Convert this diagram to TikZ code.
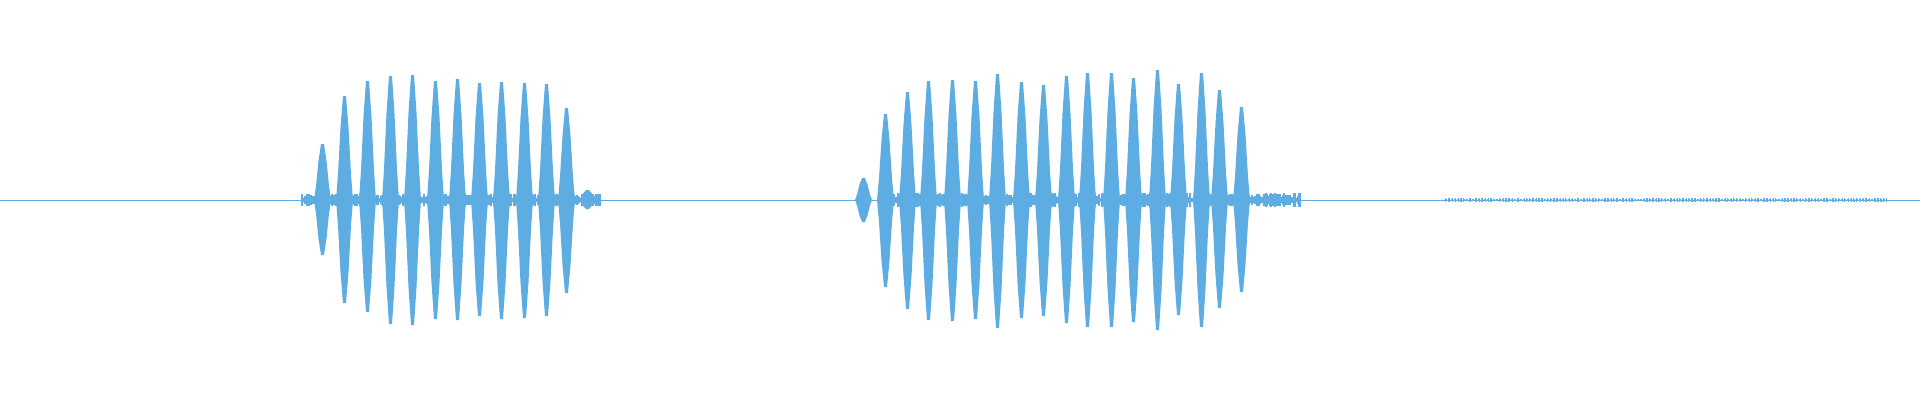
\documentclass[tikz,border=0pt]{standalone}
\definecolor{wave}{RGB}{93,173,226}
\newcommand\wspike[3]{% x, top amp, bottom amp
  \fill[wave] (#1-9,0) -- (#1-7,0.25*#2) -- (#1-4.5,0.7*#2) -- (#1-2,#2) -- (#1+1,#2) -- (#1+3.5,0.7*#2) -- (#1+6,0.25*#2) -- (#1+8,0)
   -- (#1+6,-0.25*#3) -- (#1+3.5,-0.7*#3) -- (#1+1,-#3) -- (#1-2,-#3) -- (#1-4.5,-0.7*#3) -- (#1-7,-0.25*#3) -- cycle;}
\begin{document}
\begin{tikzpicture}[x=1pt,y=1pt]
\useasboundingbox (0,-200) rectangle (1920,200);
\draw[wave,line width=1pt] (0,0) -- (1920,0);
\pgfmathsetseed{7}
\foreach \i in {302,303,...,600}{\pgfmathsetmacro\a{1.5+5*rnd}\draw[wave,line width=1.1pt] (\i,-\a) -- (\i,\a);}
\foreach \i in {880,881,...,1300}{\pgfmathsetmacro\a{1.5+6*rnd}\draw[wave,line width=1.1pt] (\i,-\a) -- (\i,\a);}
\foreach \i in {1445,1446.5,...,1886}{\pgfmathsetmacro\a{0.8+1.6*rnd}\draw[wave,line width=0.9pt] (\i,-\a) -- (\i,\a);}
\foreach \x/\t/\b in {323/56/55,345/104/103,368/119/112,391/124/124,413/125/125,436/119/119,458/121/120,480/117/116,502/118/119,525/117/118,547/116/116,567/92/93,588/10/9}
  {\wspike{\x}{\t}{\b}}
\foreach \x/\t/\b in {864/22/22,886/86/87,908/108/109,929/119/120,953/120/121,976/119/119,998/126/128,1022/118/118,1044/115/116,1067/124/123,1088/127/127,1112/127/127,1134/122/122,1158/130/130,1179/116/115,1202/127/127,1220/110/108,1242/93/92}
  {\wspike{\x}{\t}{\b}}
\end{tikzpicture}
\end{document}
